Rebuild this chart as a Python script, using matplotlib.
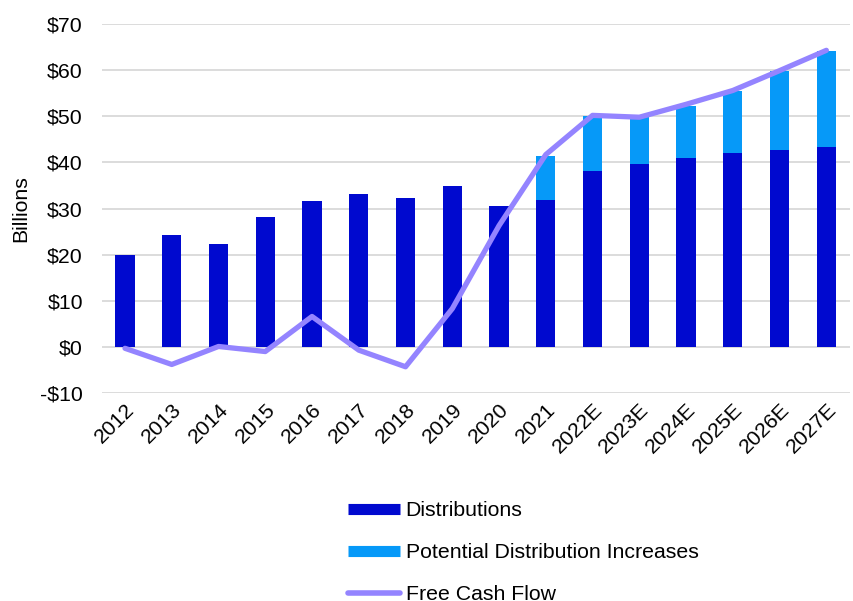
import matplotlib.pyplot as plt
from matplotlib.lines import Line2D
import numpy as np

plt.rcParams['font.family'] = ['Liberation Sans', 'DejaVu Sans']

years = ["2012", "2013", "2014", "2015", "2016", "2017", "2018", "2019", "2020",
         "2021", "2022E", "2023E", "2024E", "2025E", "2026E", "2027E"]
distributions = [19.9, 24.2, 22.3, 28.2, 31.7, 33.2, 32.3, 34.8, 30.6,
                 31.9, 38.1, 39.7, 41.0, 42.1, 42.7, 43.4]
potential_increases = [0, 0, 0, 0, 0, 0, 0, 0, 0,
                       9.6, 12.0, 10.1, 11.3, 13.4, 17.1, 20.8]
free_cash_flow = [-0.3, -3.8, 0.1, -1.0, 6.6, -0.7, -4.3, 8.3, 26.3,
                  41.7, 50.2, 49.8, 52.6, 55.6, 59.9, 64.3]

c_dist = "#0009CF"
c_pot = "#0699F8"
c_fcf = "#9484FF"
fs = 15.3

fig = plt.figure(figsize=(8.54, 6.01), dpi=100)
ax = fig.add_axes([0.119, 0.346, 0.876, 0.614])

x = np.arange(len(years))
ax.bar(x, distributions, width=0.41, color=c_dist, zorder=2)
ax.bar(x, potential_increases, width=0.41, bottom=distributions, color=c_pot, zorder=2)
ax.plot(x, free_cash_flow, color=c_fcf, lw=3.8, solid_capstyle="round",
        solid_joinstyle="round", zorder=3)

ax.set_xlim(-0.5, len(years) - 0.5)
ax.set_ylim(-10, 70)
ax.set_yticks(range(-10, 71, 10))
ax.set_yticklabels(["-$10" if v < 0 else f"${v}" for v in range(-10, 71, 10)])
ax.set_xticks(x)
ax.set_xticklabels(years, rotation=45, ha="right", rotation_mode="anchor")
ax.tick_params(axis="both", length=0, labelsize=fs, colors="#000000")
ax.tick_params(axis="x", pad=5)
ax.tick_params(axis="y", pad=13.5)
ax.grid(axis="y", color="#D9D9D9", lw=1.3, zorder=0)
for s in ax.spines.values():
    s.set_visible(False)
ax.set_ylabel("Billions", fontsize=fs, labelpad=7)

handles = [
    Line2D([0], [0], color=c_dist, lw=8, solid_capstyle="butt"),
    Line2D([0], [0], color=c_pot, lw=8, solid_capstyle="butt"),
    Line2D([0], [0], color=c_fcf, lw=4, solid_capstyle="round"),
]
fig.legend(handles, ["Distributions", "Potential Distribution Increases", "Free Cash Flow"],
           loc="upper left", bbox_to_anchor=(0.407, 0.166), frameon=False,
           fontsize=fs, handlelength=2.45, handletextpad=0.28, labelspacing=1.08,
           borderpad=0, borderaxespad=0)

fig.savefig("out.png", dpi=100)
